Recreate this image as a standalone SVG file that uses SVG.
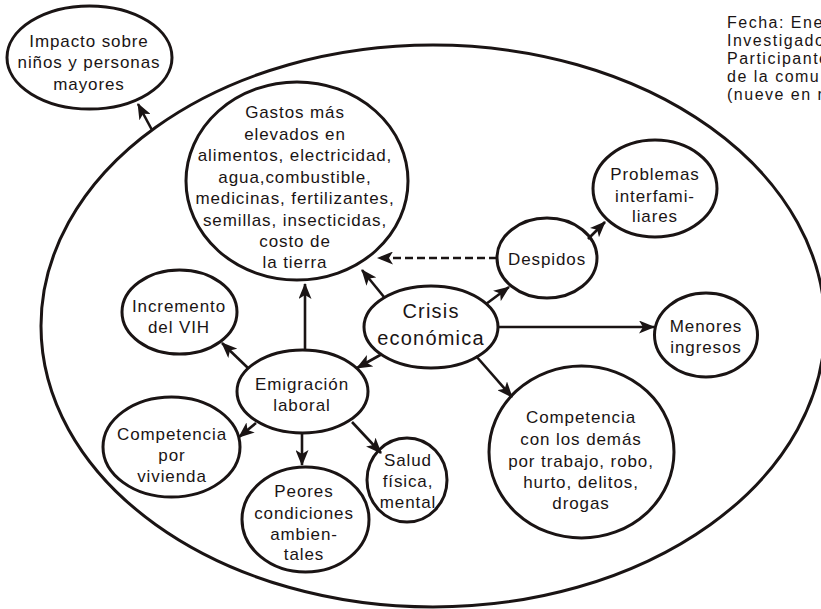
<svg xmlns="http://www.w3.org/2000/svg" width="821" height="609" viewBox="0 0 821 609">
<style>
.n{fill:none;stroke:#1a1414;stroke-width:3}
.c{stroke:#1a1414;stroke-width:2.6;fill:none;marker-end:url(#ah)}
.d{stroke-dasharray:8,4}
text{font-family:"Liberation Sans",Arial,sans-serif;font-size:17px;letter-spacing:0.9px;fill:#1a1414;text-anchor:middle}
.big{font-size:20px;letter-spacing:1.2px}
.note{font-size:16px;letter-spacing:1.5px;text-anchor:start}
</style>
<defs>
<marker id="ah" viewBox="0 0 16 13" refX="15" refY="6.5" markerWidth="16" markerHeight="13" orient="auto" markerUnits="userSpaceOnUse">
<path d="M0,0 L16,6.5 L0,13 L4,6.5 z" fill="#1a1414"/>
</marker>
</defs>
<rect width="821" height="609" fill="#fff"/>
<g id="contexto">
<ellipse class="n" cx="433" cy="326" rx="392" ry="281"/>
</g>
<g id="nota">
<text class="note" x="727" y="28">Fecha: Ene</text>
<text class="note" x="727" y="46">Investigado</text>
<text class="note" x="727" y="64">Participante</text>
<text class="note" x="727" y="82">de la comu</text>
<text class="note" x="727" y="100">(nueve en m</text>
</g>
<g id="impacto">
<ellipse class="n" cx="89.5" cy="57.5" rx="82.5" ry="51.5"/>
<text x="89" y="47">Impacto sobre</text>
<text x="89" y="68">niños y personas</text>
<text x="89" y="90">mayores</text>
</g>
<g id="gastos">
<ellipse class="n" cx="297" cy="181" rx="111" ry="99"/>
<text x="295" y="118">Gastos más</text>
<text x="295" y="140">elevados en</text>
<text x="295" y="161">alimentos, electricidad,</text>
<text x="295" y="183">agua,combustible,</text>
<text x="295" y="204">medicinas, fertilizantes,</text>
<text x="295" y="226">semillas, insecticidas,</text>
<text x="295" y="247">costo de</text>
<text x="295" y="268">la tierra</text>
</g>
<g id="crisis">
<ellipse class="n" cx="431" cy="327" rx="67" ry="41"/>
<text class="big" x="431" y="318">Crisis</text>
<text class="big" x="431" y="345">económica</text>
</g>
<g id="despidos">
<ellipse class="n" cx="547" cy="258" rx="50" ry="40"/>
<text x="547" y="265">Despidos</text>
</g>
<g id="problemas">
<ellipse class="n" cx="655" cy="188.5" rx="62" ry="48.5"/>
<text x="655" y="180">Problemas</text>
<text x="655" y="202">interfami-</text>
<text x="655" y="222">liares</text>
</g>
<g id="menores">
<ellipse class="n" cx="706" cy="335" rx="51.5" ry="42"/>
<text x="706" y="332">Menores</text>
<text x="706" y="353">ingresos</text>
</g>
<g id="competencia_demas">
<ellipse class="n" cx="581.5" cy="452" rx="92.5" ry="86"/>
<text x="581" y="423">Competencia</text>
<text x="581" y="445">con los demás</text>
<text x="581" y="467">por trabajo, robo,</text>
<text x="581" y="488">hurto, delitos,</text>
<text x="581" y="509">drogas</text>
</g>
<g id="emigracion">
<ellipse class="n" cx="302.5" cy="391.5" rx="65.5" ry="41.5"/>
<text x="302" y="390">Emigración</text>
<text x="302" y="411">laboral</text>
</g>
<g id="incremento">
<ellipse class="n" cx="179.5" cy="312" rx="57.5" ry="42"/>
<text x="179" y="312">Incremento</text>
<text x="179" y="333">del VIH</text>
</g>
<g id="vivienda">
<ellipse class="n" cx="171.5" cy="447" rx="68.5" ry="50"/>
<text x="172" y="440">Competencia</text>
<text x="172" y="461">por</text>
<text x="172" y="482">vivienda</text>
</g>
<g id="peores">
<ellipse class="n" cx="305.5" cy="519.5" rx="63.5" ry="52.5"/>
<text x="304" y="497">Peores</text>
<text x="304" y="519">condiciones</text>
<text x="304" y="540">ambien-</text>
<text x="304" y="560">tales</text>
</g>
<g id="salud">
<ellipse class="n" cx="407" cy="480" rx="40" ry="42"/>
<text x="408" y="466">Salud</text>
<text x="408" y="487">física,</text>
<text x="408" y="508">mental</text>
</g>
<g id="conectores">
<line class="c" x1="152" y1="130" x2="138" y2="104"/>
<line class="c d" x1="497" y1="258" x2="378" y2="258"/>
<line class="c" x1="384" y1="297" x2="362" y2="270"/>
<line class="c" x1="486" y1="304" x2="509" y2="287"/>
<line class="c" x1="588" y1="239" x2="605" y2="222"/>
<line class="c" x1="498" y1="327" x2="654" y2="327"/>
<line class="c" x1="476" y1="356" x2="512" y2="397"/>
<line class="c" x1="382" y1="354" x2="357" y2="368"/>
<line class="c" x1="305" y1="350" x2="305" y2="284"/>
<line class="c" x1="248" y1="368" x2="222" y2="343"/>
<line class="c" x1="256" y1="423" x2="239" y2="437"/>
<line class="c" x1="302" y1="433" x2="302" y2="465"/>
<line class="c" x1="352" y1="422" x2="381" y2="453"/>
</g>
</svg>
